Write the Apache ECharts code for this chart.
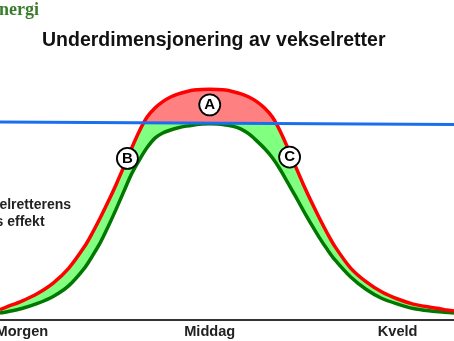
<!DOCTYPE html>
<html>
<head>
<meta charset="utf-8">
<script src="https://cdn.jsdelivr.net/npm/echarts@6/dist/echarts.min.js"></script>
<style>
  html, body { margin: 0; padding: 0; background: #fff; }
  #chart { width: 454px; height: 341px; }
</style>
</head>
<body>
<div id="chart"></div>
<script>
// Time of day (hours) for each sample of the two production curves
const hours = [5.3, 5.5, 6, 6.5, 7, 7.5,
  8, 8.25, 8.5, 8.75, 9, 9.25, 9.5, 9.75, 10, 10.25, 10.5, 10.75, 11, 11.25, 11.5, 11.75,
  12, 12.25, 12.5, 12.75, 13, 13.25, 13.5, 13.75, 14, 14.25, 14.5, 14.75, 15, 15.25, 15.5, 15.75,
  16, 16.5, 17, 17.5, 18, 18.5, 19, 19.5, 19.8];
// Panel output before the inverter (red), % of peak
const panelOutput = [4.5, 5.6, 8.2, 11.5, 16.0, 22.5,
  31.8, 37.7, 44.2, 51.1, 58.4, 66.2, 74.3, 81.8, 87.9, 91.8, 94.6, 96.6, 98.0, 98.9, 99.6, 99.9,
  100, 99.9, 99.6, 98.9, 98.0, 96.6, 94.6, 91.8, 87.9, 81.8, 74.3, 66.2, 58.4, 51.1, 44.2, 37.7,
  31.8, 22.5, 16.5, 12.1, 9.1, 6.9, 5.6, 4.5, 3.9];
// Output on a weaker day (green), % of peak
const lowerOutput = [3.0, 3.5, 5.0, 7.2, 10.2, 14.9,
  22.5, 27.7, 33.4, 40.3, 47.7, 55.5, 63.2, 69.3, 74.7, 78.8, 81.0, 82.3, 83.3, 84.0, 84.5, 84.9,
  85.0, 84.9, 84.5, 83.9, 82.7, 80.6, 77.6, 74.3, 70.3, 65.2, 59.3, 53.3, 47.2, 41.3, 35.7, 30.6,
  26.0, 18.6, 13.2, 9.3, 6.9, 5.0, 4.0, 3.4, 3.0];
// Inverter rated power (blue line), start and end of the day
const limitHours = [5.3, 19.8];
const limitValues = [85.8, 84.7];

// Axis labels (every 6 hours)
const tickHours = [6, 12, 18];
const tickNames = ['Morgen', 'Middag', 'Kveld'];

// Circled markers
const markerNames = ['A', 'B', 'C'];
const markerHours = [12, 9.37, 14.55];
const markerValues = [93.2, 70.0, 70.6];

const pairs = (xs, ys) => xs.map((x, i) => [x, ys[i]]);

const chart = echarts.init(document.getElementById('chart'), null, { renderer: 'canvas' });
const font = '"Liberation Sans", Arial, Helvetica, sans-serif';
const SMOOTH = 0.3;

// Fill layers: pink under the red curve, light green below the limit,
// white above the red curve and white below the green curve.
const fillLayer = (xs, ys, color, origin, smooth) => ({
  type: 'line', data: pairs(xs, ys), smooth: smooth, symbol: 'none', silent: true,
  lineStyle: { width: 0 }, areaStyle: { color: color, opacity: 1, origin: origin }, z: 1
});

chart.setOption({
  animation: false,
  backgroundColor: '#ffffff',
  title: {
    text: 'Underdimensjonering av vekselretter',
    left: 37,
    top: 26,
    z: 10,
    textStyle: { fontFamily: font, fontSize: 19.5, fontWeight: 'bold', color: '#111' }
  },
  grid: { left: -166, right: -131.5, top: 43, bottom: 21, containLabel: false, outerBoundsMode: 'none' },
  xAxis: {
    type: 'value',
    min: 0,
    max: 24,
    interval: 6,
    z: 10,
    splitLine: { show: false },
    axisTick: { show: false },
    axisLine: { show: true, lineStyle: { color: '#333', width: 2 } },
    axisLabel: {
      formatter: v => tickNames[tickHours.indexOf(v)] || '',
      fontFamily: font,
      fontSize: 14.6,
      fontWeight: 'bold',
      color: '#222',
      margin: 4,
      hideOverlap: false
    }
  },
  yAxis: { type: 'value', min: 0, max: 120, show: false },
  series: [
    fillLayer(hours, panelOutput, '#ff8080', 0, SMOOTH),
    fillLayer(limitHours, limitValues, '#80ff80', 0, false),
    fillLayer(hours, panelOutput, '#ffffff', 'end', SMOOTH),
    fillLayer(hours, lowerOutput, '#ffffff', 0, SMOOTH),
    {
      type: 'line', data: pairs(hours, lowerOutput), smooth: SMOOTH, symbol: 'none',
      lineStyle: { color: '#007800', width: 3.5 }, z: 3
    },
    {
      type: 'line', data: pairs(hours, panelOutput), smooth: SMOOTH, symbol: 'none',
      lineStyle: { color: '#ff0000', width: 3.5 }, z: 4
    },
    {
      type: 'line', data: pairs(limitHours, limitValues), symbol: 'none',
      lineStyle: { color: '#1a6ff0', width: 3 }, z: 5
    },
    {
      type: 'scatter',
      data: markerNames.map((n, i) => ({ value: [markerHours[i], markerValues[i]], name: n })),
      symbol: 'circle', symbolSize: 21, z: 6,
      itemStyle: { color: '#ffffff', borderColor: '#000', borderWidth: 1.8, opacity: 1 },
      label: {
        show: true, position: 'inside', formatter: p => p.name,
        fontFamily: font, fontSize: 15, fontWeight: 'bold', color: '#000'
      }
    }
  ],
  graphic: [
    {
      type: 'text', left: -1, top: 1, z: 10,
      style: { text: 'nergi', font: 'bold 18px "Liberation Serif", "DejaVu Serif", serif', fill: '#3b7d2c' }
    },
    {
      type: 'text', left: -32.5, top: 197, z: 10,
      style: { text: 'Vekselretterens\nmaks effekt', font: 'bold 14px ' + font, fill: '#222', lineHeight: 17 }
    }
  ]
});
</script>
</body>
</html>
